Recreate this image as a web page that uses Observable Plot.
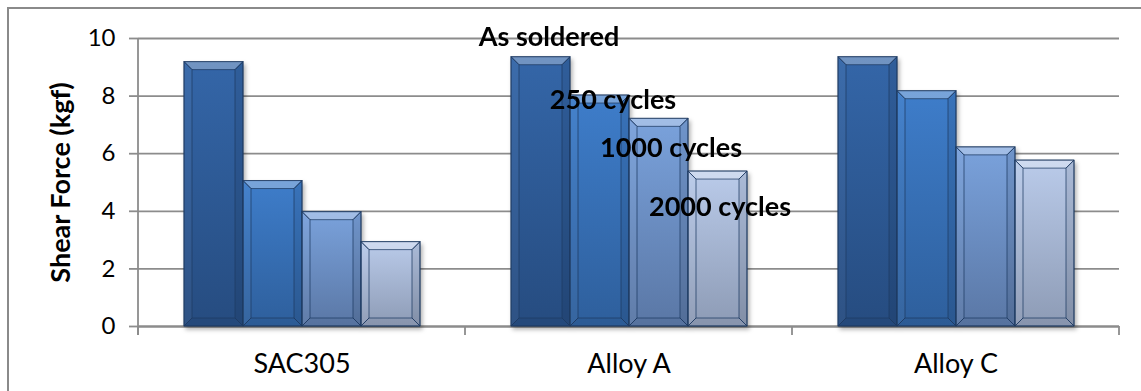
<!DOCTYPE html>
<html>
<head>
<meta charset="utf-8">
<script src="https://cdn.jsdelivr.net/npm/d3@7"></script>
<script src="https://cdn.jsdelivr.net/npm/@observablehq/plot@0.6"></script>
<style>
  html, body { margin: 0; padding: 0; background: #fff; overflow: hidden; }
  #chart { position: relative; width: 1141px; height: 391px; }
  #chart svg { position: absolute; left: 0; top: 0; }
  #frame { position: absolute; left: 7px; top: 7px; width: 1200px; height: 500px;
           border: 2px solid #8a8a8a; pointer-events: none; }
  #chart g[aria-label="y-axis label"] text { font-weight: bold; font-size: 27px; }
</style>
</head>
<body>
<div id="chart"><div id="frame"></div></div>
<script>
// Shear force (kgf) of each alloy after thermal cycling
const categories = ["SAC305", "Alloy A", "Alloy C"];
const seriesNames = ["As soldered", "250 cycles", "1000 cycles", "2000 cycles"];
const asSoldered = [9.18, 9.35, 9.35];
const cycles250 = [5.05, 8.02, 8.17];
const cycles1000 = [3.97, 7.21, 6.22];
const cycles2000 = [2.93, 5.38, 5.76];
const yTicks = [0, 2, 4, 6, 8, 10];

const seriesValues = [asSoldered, cycles250, cycles1000, cycles2000];
const data = seriesNames.flatMap((s, i) =>
  categories.map((c, j) => ({series: s, category: c, value: seriesValues[i][j]}))
);

// Top/bottom shades of each series' bar gradient
const barShades = [
  ["#3466a8", "#264c80"],
  ["#3e7dca", "#2e5f9c"],
  ["#7aa2dc", "#5a77a5"],
  ["#bacbea", "#8d9bb5"]
];
const gradId = (name) => `bar-grad-${seriesNames.indexOf(name)}`;

// Series names drawn over the Alloy A bars, with their offsets in pixels
const seriesLabelOffsets = [
  {dx: 8, dy: -20},
  {dx: 13, dy: 5},
  {dx: 12, dy: 30},
  {dx: 2, dy: 36}
];

const plot = Plot.plot({
  width: 1141,
  height: 391,
  marginLeft: 137,
  marginRight: 21,
  marginTop: 38,
  marginBottom: 65,
  style: {fontFamily: "Lato, 'Open Sans', sans-serif", fontSize: "24px", color: "#000", background: "transparent", overflow: "visible"},
  fx: {domain: categories, padding: 0, label: null},
  x: {domain: seriesNames, paddingInner: 0, paddingOuter: 0.73, axis: null},
  y: {domain: [0, 10]},
  color: {type: "identity"},
  marks: [
    Plot.gridY(yTicks, {stroke: "#8c8c8c", strokeOpacity: 1, strokeWidth: 1.8}),
    Plot.ruleY([0], {stroke: "#8c8c8c", strokeWidth: 1.8}),
    Plot.axisY(yTicks, {
      tickSize: 9, tickPadding: 14, stroke: "#8c8c8c", strokeWidth: 1.8,
      fontSize: 24, label: "Shear Force (kgf)", labelAnchor: "center", labelOffset: 88, labelArrow: "none"
    }),
    Plot.axisFx({anchor: "bottom", tickSize: 0, tickPadding: 27, fontSize: 27, label: null}),
    Plot.barY(data, {
      fx: "category", x: "series", y: "value",
      fill: (d) => `url(#${gradId(d.series)})`,
      stroke: "#1f3b63", strokeOpacity: 0.75, strokeWidth: 1,
      inset: 0
    }),
    ...seriesNames.map((name, i) =>
      Plot.text(data.filter((d) => d.category === "Alloy A" && d.series === name), {
        fx: "category", x: "series", y: "value", text: "series",
        dx: seriesLabelOffsets[i].dx, dy: seriesLabelOffsets[i].dy,
        fontWeight: "bold", fontSize: 27, fill: "#000"
      })
    )
  ]
});

const svg = d3.select(plot);

// Gradients for the bar bodies
const defs = svg.insert("defs", ":first-child");
barShades.forEach(([top, bottom], i) => {
  const g = defs.append("linearGradient").attr("id", `bar-grad-${i}`)
    .attr("x1", 0).attr("y1", 0).attr("x2", 0).attr("y2", 1);
  g.append("stop").attr("offset", "0%").attr("stop-color", top);
  g.append("stop").attr("offset", "100%").attr("stop-color", bottom);
});

// Bevelled edges and a soft drop shadow on every bar
const bevel = 8;
svg.selectAll('g[aria-label="bar"]').each(function () {
  d3.select(this).style("filter", "drop-shadow(2px 3px 2px rgba(0,0,0,0.3))");
  d3.select(this).selectAll("rect").nodes().forEach((node) => {
    const group = d3.select(node.parentNode);
    const x = +node.getAttribute("x"), y = +node.getAttribute("y");
    const w = +node.getAttribute("width"), h = +node.getAttribute("height");
    const b = Math.min(bevel, h / 2);
    const poly = (pts, fill, op) => group.append("polygon")
      .attr("points", pts.map((p) => p.join(",")).join(" "))
      .attr("fill", fill).attr("fill-opacity", op).attr("pointer-events", "none");
    poly([[x, y], [x + w, y], [x + w - b, y + b], [x + b, y + b]], "#fff", 0.3);
    poly([[x, y], [x + b, y + b], [x + b, y + h - b], [x, y + h]], "#fff", 0.04);
    poly([[x + w, y], [x + w, y + h], [x + w - b, y + h - b], [x + w - b, y + b]], "#000", 0.08);
    poly([[x, y + h], [x + b, y + h - b], [x + w - b, y + h - b], [x + w, y + h]], "#000", 0.04);
  });
});

// Value-axis line and the category boundary ticks
const fx = plot.scale("fx");
const y = plot.scale("y");
const y0 = y.apply(0), yTop = y.apply(10);
const left = fx.apply(categories[0]);
const edges = categories.map((c) => fx.apply(c)).concat(fx.apply(categories[categories.length - 1]) + fx.bandwidth);
const axes = svg.append("g").attr("stroke", "#8c8c8c").attr("stroke-width", 1.8);
axes.append("line").attr("x1", left).attr("x2", left).attr("y1", yTop).attr("y2", y0 + 9);
edges.forEach((ex) => axes.append("line").attr("x1", ex).attr("x2", ex).attr("y1", y0).attr("y2", y0 + 9));

document.getElementById("chart").appendChild(plot);
</script>
</body>
</html>
